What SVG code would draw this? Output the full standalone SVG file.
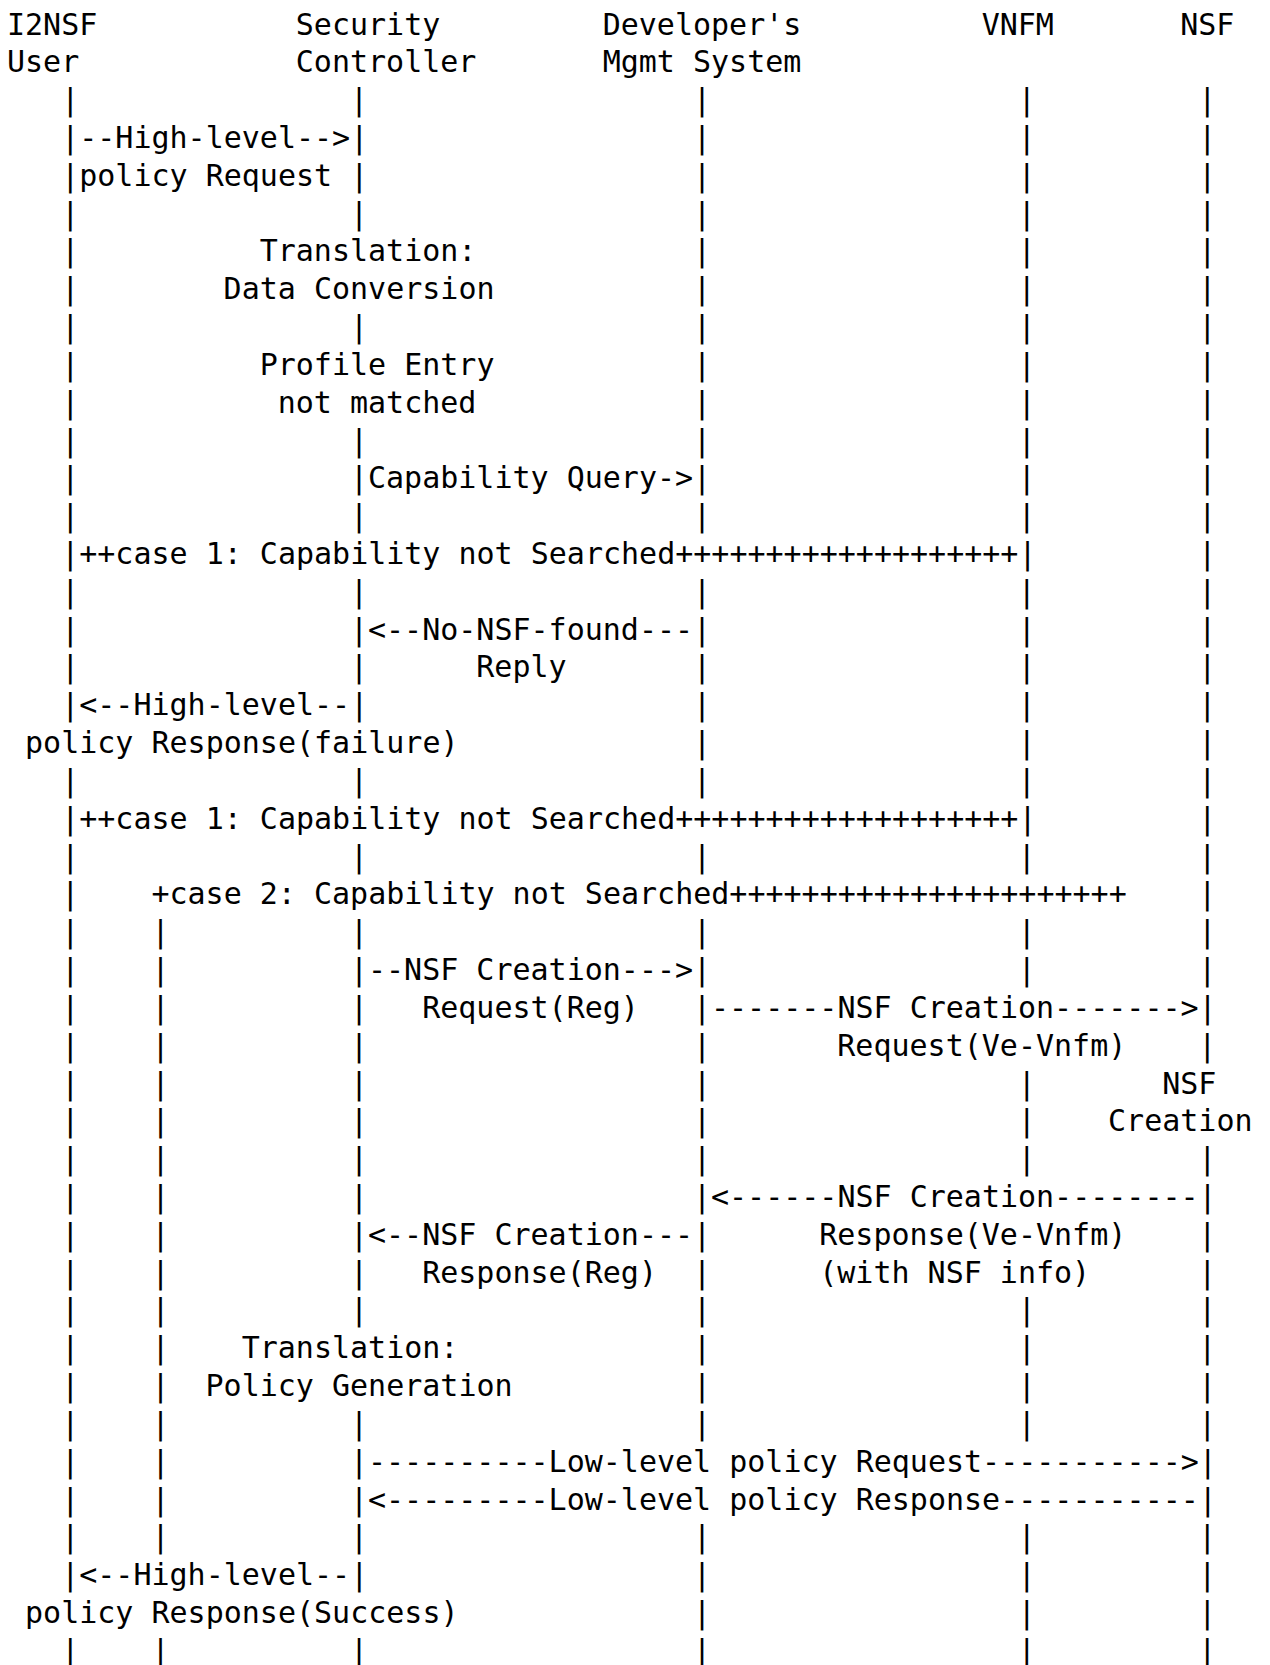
<svg xmlns="http://www.w3.org/2000/svg" width="1270" height="1665" viewBox="0 0 1270 1665">
<style>
.t{font-family:"DejaVu Sans Mono","Liberation Mono",monospace;font-size:30px;fill:#000;white-space:pre}
</style>
<rect width="1270" height="1665" fill="#fff"/>
<g id="nodes">
<g id="i2nsf-user"><text class="t" x="7" y="34.5">I2NSF</text><text class="t" x="7" y="72.3">User</text></g>
<g id="security-controller"><text class="t" x="295.8" y="34.5">Security</text><text class="t" x="295.8" y="72.3">Controller</text></g>
<g id="developers-mgmt-system"><text class="t" x="602.65" y="34.5">Developer's</text><text class="t" x="602.65" y="72.3">Mgmt System</text></g>
<g id="vnfm"><text class="t" x="981.7" y="34.5">VNFM</text></g>
<g id="nsf"><text class="t" x="1180.25" y="34.5">NSF</text></g>
</g>
<g id="connectors">
<g id="lifelines">
<text class="t" id="ll-user"><tspan x="61.15" y="110.1">|</tspan><tspan x="61.15" y="223.6">|</tspan><tspan x="61.15" y="261.4">|</tspan><tspan x="61.15" y="299.2">|</tspan><tspan x="61.15" y="337.1">|</tspan><tspan x="61.15" y="374.9">|</tspan><tspan x="61.15" y="412.7">|</tspan><tspan x="61.15" y="450.5">|</tspan><tspan x="61.15" y="488.3">|</tspan><tspan x="61.15" y="526.2">|</tspan><tspan x="61.15" y="601.8">|</tspan><tspan x="61.15" y="639.6">|</tspan><tspan x="61.15" y="677.4">|</tspan><tspan x="61.15" y="790.9">|</tspan><tspan x="61.15" y="866.5">|</tspan><tspan x="61.15" y="904.4">|</tspan><tspan x="61.15" y="942.2">|</tspan><tspan x="61.15" y="980">|</tspan><tspan x="61.15" y="1017.8">|</tspan><tspan x="61.15" y="1055.6">|</tspan><tspan x="61.15" y="1093.5">|</tspan><tspan x="61.15" y="1131.3">|</tspan><tspan x="61.15" y="1169.1">|</tspan><tspan x="61.15" y="1206.9">|</tspan><tspan x="61.15" y="1244.7">|</tspan><tspan x="61.15" y="1282.6">|</tspan><tspan x="61.15" y="1320.4">|</tspan><tspan x="61.15" y="1358.2">|</tspan><tspan x="61.15" y="1396">|</tspan><tspan x="61.15" y="1433.8">|</tspan><tspan x="61.15" y="1471.7">|</tspan><tspan x="61.15" y="1509.5">|</tspan><tspan x="61.15" y="1547.3">|</tspan><tspan x="61.15" y="1660.8">|</tspan></text>
<text class="t" id="ll-case2"><tspan x="151.4" y="942.2">|</tspan><tspan x="151.4" y="980">|</tspan><tspan x="151.4" y="1017.8">|</tspan><tspan x="151.4" y="1055.6">|</tspan><tspan x="151.4" y="1093.5">|</tspan><tspan x="151.4" y="1131.3">|</tspan><tspan x="151.4" y="1169.1">|</tspan><tspan x="151.4" y="1206.9">|</tspan><tspan x="151.4" y="1244.7">|</tspan><tspan x="151.4" y="1282.6">|</tspan><tspan x="151.4" y="1320.4">|</tspan><tspan x="151.4" y="1358.2">|</tspan><tspan x="151.4" y="1396">|</tspan><tspan x="151.4" y="1433.8">|</tspan><tspan x="151.4" y="1471.7">|</tspan><tspan x="151.4" y="1509.5">|</tspan><tspan x="151.4" y="1547.3">|</tspan><tspan x="151.4" y="1660.8">|</tspan></text>
<text class="t" id="ll-controller"><tspan x="349.95" y="110.1">|</tspan><tspan x="349.95" y="223.6">|</tspan><tspan x="349.95" y="337.1">|</tspan><tspan x="349.95" y="450.5">|</tspan><tspan x="349.95" y="526.2">|</tspan><tspan x="349.95" y="601.8">|</tspan><tspan x="349.95" y="677.4">|</tspan><tspan x="349.95" y="790.9">|</tspan><tspan x="349.95" y="866.5">|</tspan><tspan x="349.95" y="942.2">|</tspan><tspan x="349.95" y="1017.8">|</tspan><tspan x="349.95" y="1055.6">|</tspan><tspan x="349.95" y="1093.5">|</tspan><tspan x="349.95" y="1131.3">|</tspan><tspan x="349.95" y="1169.1">|</tspan><tspan x="349.95" y="1206.9">|</tspan><tspan x="349.95" y="1282.6">|</tspan><tspan x="349.95" y="1320.4">|</tspan><tspan x="349.95" y="1433.8">|</tspan><tspan x="349.95" y="1547.3">|</tspan><tspan x="349.95" y="1660.8">|</tspan></text>
<text class="t" id="ll-developer"><tspan x="692.9" y="110.1">|</tspan><tspan x="692.9" y="148">|</tspan><tspan x="692.9" y="185.8">|</tspan><tspan x="692.9" y="223.6">|</tspan><tspan x="692.9" y="261.4">|</tspan><tspan x="692.9" y="299.2">|</tspan><tspan x="692.9" y="337.1">|</tspan><tspan x="692.9" y="374.9">|</tspan><tspan x="692.9" y="412.7">|</tspan><tspan x="692.9" y="450.5">|</tspan><tspan x="692.9" y="526.2">|</tspan><tspan x="692.9" y="601.8">|</tspan><tspan x="692.9" y="677.4">|</tspan><tspan x="692.9" y="715.3">|</tspan><tspan x="692.9" y="753.1">|</tspan><tspan x="692.9" y="790.9">|</tspan><tspan x="692.9" y="866.5">|</tspan><tspan x="692.9" y="942.2">|</tspan><tspan x="692.9" y="1055.6">|</tspan><tspan x="692.9" y="1093.5">|</tspan><tspan x="692.9" y="1131.3">|</tspan><tspan x="692.9" y="1169.1">|</tspan><tspan x="692.9" y="1282.6">|</tspan><tspan x="692.9" y="1320.4">|</tspan><tspan x="692.9" y="1358.2">|</tspan><tspan x="692.9" y="1396">|</tspan><tspan x="692.9" y="1433.8">|</tspan><tspan x="692.9" y="1547.3">|</tspan><tspan x="692.9" y="1585.1">|</tspan><tspan x="692.9" y="1622.9">|</tspan><tspan x="692.9" y="1660.8">|</tspan></text>
<text class="t" id="ll-vnfm"><tspan x="1017.8" y="110.1">|</tspan><tspan x="1017.8" y="148">|</tspan><tspan x="1017.8" y="185.8">|</tspan><tspan x="1017.8" y="223.6">|</tspan><tspan x="1017.8" y="261.4">|</tspan><tspan x="1017.8" y="299.2">|</tspan><tspan x="1017.8" y="337.1">|</tspan><tspan x="1017.8" y="374.9">|</tspan><tspan x="1017.8" y="412.7">|</tspan><tspan x="1017.8" y="450.5">|</tspan><tspan x="1017.8" y="488.3">|</tspan><tspan x="1017.8" y="526.2">|</tspan><tspan x="1017.8" y="601.8">|</tspan><tspan x="1017.8" y="639.6">|</tspan><tspan x="1017.8" y="677.4">|</tspan><tspan x="1017.8" y="715.3">|</tspan><tspan x="1017.8" y="753.1">|</tspan><tspan x="1017.8" y="790.9">|</tspan><tspan x="1017.8" y="866.5">|</tspan><tspan x="1017.8" y="942.2">|</tspan><tspan x="1017.8" y="980">|</tspan><tspan x="1017.8" y="1093.5">|</tspan><tspan x="1017.8" y="1131.3">|</tspan><tspan x="1017.8" y="1169.1">|</tspan><tspan x="1017.8" y="1320.4">|</tspan><tspan x="1017.8" y="1358.2">|</tspan><tspan x="1017.8" y="1396">|</tspan><tspan x="1017.8" y="1433.8">|</tspan><tspan x="1017.8" y="1547.3">|</tspan><tspan x="1017.8" y="1585.1">|</tspan><tspan x="1017.8" y="1622.9">|</tspan><tspan x="1017.8" y="1660.8">|</tspan></text>
<text class="t" id="ll-nsf"><tspan x="1198.3" y="110.1">|</tspan><tspan x="1198.3" y="148">|</tspan><tspan x="1198.3" y="185.8">|</tspan><tspan x="1198.3" y="223.6">|</tspan><tspan x="1198.3" y="261.4">|</tspan><tspan x="1198.3" y="299.2">|</tspan><tspan x="1198.3" y="337.1">|</tspan><tspan x="1198.3" y="374.9">|</tspan><tspan x="1198.3" y="412.7">|</tspan><tspan x="1198.3" y="450.5">|</tspan><tspan x="1198.3" y="488.3">|</tspan><tspan x="1198.3" y="526.2">|</tspan><tspan x="1198.3" y="564">|</tspan><tspan x="1198.3" y="601.8">|</tspan><tspan x="1198.3" y="639.6">|</tspan><tspan x="1198.3" y="677.4">|</tspan><tspan x="1198.3" y="715.3">|</tspan><tspan x="1198.3" y="753.1">|</tspan><tspan x="1198.3" y="790.9">|</tspan><tspan x="1198.3" y="828.7">|</tspan><tspan x="1198.3" y="866.5">|</tspan><tspan x="1198.3" y="904.4">|</tspan><tspan x="1198.3" y="942.2">|</tspan><tspan x="1198.3" y="980">|</tspan><tspan x="1198.3" y="1055.6">|</tspan><tspan x="1198.3" y="1169.1">|</tspan><tspan x="1198.3" y="1244.7">|</tspan><tspan x="1198.3" y="1282.6">|</tspan><tspan x="1198.3" y="1320.4">|</tspan><tspan x="1198.3" y="1358.2">|</tspan><tspan x="1198.3" y="1396">|</tspan><tspan x="1198.3" y="1433.8">|</tspan><tspan x="1198.3" y="1547.3">|</tspan><tspan x="1198.3" y="1585.1">|</tspan><tspan x="1198.3" y="1622.9">|</tspan><tspan x="1198.3" y="1660.8">|</tspan></text>
</g>
<g id="messages">
<text class="t" x="61.15" y="148">|--High-level--&gt;|</text>
<text class="t" x="61.15" y="185.8">|policy Request |</text>
<text class="t" x="349.95" y="488.3">|Capability Query-&gt;|</text>
<text class="t" x="61.15" y="564">|++case 1: Capability not Searched+++++++++++++++++++|</text>
<text class="t" x="349.95" y="639.6">|&lt;--No-NSF-found---|</text>
<text class="t" x="476.3" y="677.4">Reply</text>
<text class="t" x="61.15" y="715.3">|&lt;--High-level--|</text>
<text class="t" x="25.05" y="753.1">policy Response(failure)</text>
<text class="t" x="61.15" y="828.7">|++case 1: Capability not Searched+++++++++++++++++++|</text>
<text class="t" x="151.4" y="904.4">+case 2: Capability not Searched++++++++++++++++++++++</text>
<text class="t" x="349.95" y="980">|--NSF Creation---&gt;|</text>
<text class="t" x="422.15" y="1017.8">Request(Reg)</text>
<text class="t" x="692.9" y="1017.8">|-------NSF Creation-------&gt;|</text>
<text class="t" x="837.3" y="1055.6">Request(Ve-Vnfm)</text>
<text class="t" x="692.9" y="1206.9">|&lt;------NSF Creation--------|</text>
<text class="t" x="349.95" y="1244.7">|&lt;--NSF Creation---|</text>
<text class="t" x="819.25" y="1244.7">Response(Ve-Vnfm)</text>
<text class="t" x="422.15" y="1282.6">Response(Reg)</text>
<text class="t" x="819.25" y="1282.6">(with NSF info)</text>
<text class="t" x="349.95" y="1471.7">|----------Low-level policy Request-----------&gt;|</text>
<text class="t" x="349.95" y="1509.5">|&lt;---------Low-level policy Response-----------|</text>
<text class="t" x="61.15" y="1585.1">|&lt;--High-level--|</text>
<text class="t" x="25.05" y="1622.9">policy Response(Success)</text>
</g>
</g>
<g id="notes">
<text class="t" x="259.7" y="261.4">Translation:</text>
<text class="t" x="223.6" y="299.2">Data Conversion</text>
<text class="t" x="259.7" y="374.9">Profile Entry</text>
<text class="t" x="277.75" y="412.7">not matched</text>
<text class="t" x="1162.2" y="1093.5">NSF</text>
<text class="t" x="1108.05" y="1131.3">Creation</text>
<text class="t" x="241.65" y="1358.2">Translation:</text>
<text class="t" x="205.55" y="1396">Policy Generation</text>
</g>
</svg>
